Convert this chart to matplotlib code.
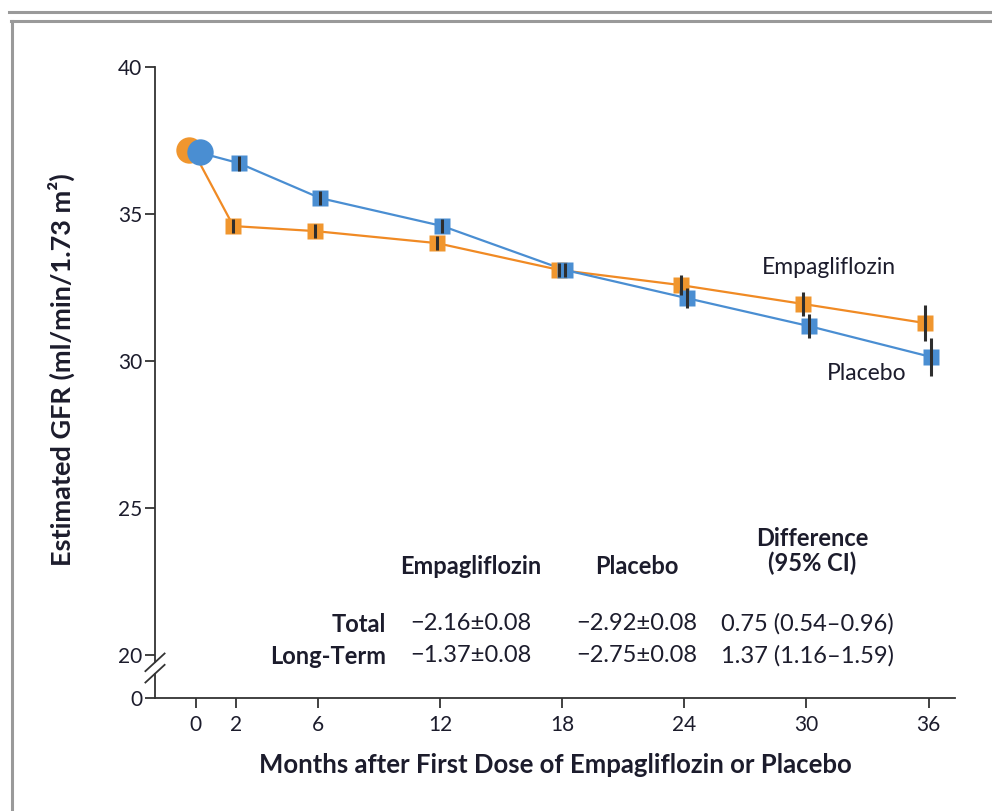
import matplotlib.pyplot as plt
import numpy as np
from matplotlib.lines import Line2D

# data
months = [0, 2, 6, 12, 18, 24, 30, 36]
empa_gfr = [37.18, 34.59, 34.42, 34.01, 33.10, 32.58, 31.94, 31.29]
empa_err = [0.0, 0.25, 0.25, 0.25, 0.25, 0.35, 0.42, 0.60]
placebo_gfr = [37.10, 36.73, 35.54, 34.59, 33.10, 32.14, 31.19, 30.14]
placebo_err = [0.0, 0.25, 0.25, 0.25, 0.25, 0.35, 0.42, 0.65]

x_ticks = [0, 2, 6, 12, 18, 24, 30, 36]
y_ticks = [0, 20, 25, 30, 35, 40]

table_cols = ["Empagliflozin", "Placebo"]
table_rows = ["Total", "Long-Term"]
empa_slope = ["\u22122.16\u00b10.08", "\u22121.37\u00b10.08"]
placebo_slope = ["\u22122.92\u00b10.08", "\u22122.75\u00b10.08"]
difference = ["0.75 (0.54\u20130.96)", "1.37 (1.16\u20131.59)"]

ORANGE = "#F0962E"
ORANGE_LINE = "#F08A24"
BLUE = "#4A8ED2"
TEXT = "#1c1c2c"
BAR = "#2e2e2e"

W, H = 992, 811
plt.rcParams["font.family"] = ["Lato", "DejaVu Sans"]


def px(x, y):
    """pixel position (from top-left) -> figure fraction"""
    return x / W, 1 - y / H


# broken y axis: 0..20 squeezed into a short stub
BREAK_LO = 18.54


def fwd(v):
    v = np.asarray(v, dtype=float)
    return np.where(v >= 20, v, BREAK_LO + v * (20 - BREAK_LO) / 20)


def inv(v):
    v = np.asarray(v, dtype=float)
    return np.where(v >= 20, v, (v - BREAK_LO) * 20 / (20 - BREAK_LO))


fig = plt.figure(figsize=(W / 100, H / 100), dpi=100)

# outer frame of the figure panel
frame = "#9a9a9a"
fig.add_artist(Line2D([9 / W, 1], [1 - 12 / H] * 2, color=frame, lw=2.2))
fig.add_artist(Line2D([11 / W, 1], [1 - 21 / H] * 2, color=frame, lw=2.2))
fig.add_artist(Line2D([12 / W] * 2, [0, 1 - 21 / H], color=frame, lw=2.2))

l, b = px(155, 698)
r, t = px(955, 67)
ax = fig.add_axes([l, b, r - l, t - b])
ax.set_yscale("function", functions=(fwd, inv))
ax.set_ylim(0, 40)
ax.set_xlim(-2.0, 37.3)

off_e = -0.15
off_p = 0.12
xe = np.array(months) + off_e
xp = np.array(months) + off_p

ax.plot(xe, empa_gfr, color=ORANGE_LINE, lw=1.6, zorder=2)
ax.plot(xp, placebo_gfr, color=BLUE, lw=1.6, zorder=2)
ax.plot(xe[1:], empa_gfr[1:], "s", color=ORANGE, ms=11.5, mec="none", zorder=3)
ax.plot(xp[1:], placebo_gfr[1:], "s", color=BLUE, ms=11.5, mec="none", zorder=4)
ax.errorbar(xe[1:], empa_gfr[1:], yerr=empa_err[1:], fmt="none", ecolor=BAR,
            elinewidth=2.2, capsize=0, zorder=5)
ax.errorbar(xp[1:], placebo_gfr[1:], yerr=placebo_err[1:], fmt="none", ecolor=BAR,
            elinewidth=2.2, capsize=0, zorder=5)
ax.plot(xe[0] - 0.2, empa_gfr[0], "o", color=ORANGE, ms=19, mec="none", zorder=3)
ax.plot(xp[0] + 0.1, placebo_gfr[0], "o", color=BLUE, ms=19, mec="none", zorder=4)

for s in ["top", "right"]:
    ax.spines[s].set_visible(False)
for s in ["left", "bottom"]:
    ax.spines[s].set_color("#333333")
    ax.spines[s].set_linewidth(1.3)

ax.set_xticks(x_ticks)
ax.set_yticks(y_ticks)
ax.set_yticklabels([str(v) for v in y_ticks])
ax.tick_params(axis="both", direction="out", length=7, width=1.3, color="#333333",
               labelsize=15, labelcolor=TEXT)
ax.tick_params(axis="x", pad=5)
ax.tick_params(axis="y", pad=2)

ax.set_xlabel("Months after First Dose of Empagliflozin or Placebo", fontsize=18.5,
              fontweight="bold", color=TEXT, labelpad=13)
ax.set_ylabel("Estimated GFR (ml/min/1.73 m\u00b2)", fontsize=19.5, fontweight="bold",
              color=TEXT)
ax.yaxis.set_label_coords(-0.1, 0.52)

# axis break marks
yb = 1 - (668 - 67) / (698 - 67)
for dy in (-0.009, 0.009):
    ax.plot([-0.012, 0.012], [yb + dy - 0.014, yb + dy + 0.014], transform=ax.transAxes,
            color="#333333", lw=1.3, clip_on=False, zorder=6)
ax.plot([0, 0], [yb - 0.004, yb + 0.004], transform=ax.transAxes, color="white",
        lw=3, clip_on=False, zorder=5)

# series labels
fig.text(*px(762, 268), "Empagliflozin", fontsize=16.5, color=TEXT, va="center")
fig.text(*px(827, 373), "Placebo", fontsize=16.5, color=TEXT, va="center")

# slope table
FS = 17
fig.text(*px(471, 567), table_cols[0], fontsize=FS, fontweight="bold", color=TEXT,
         ha="center", va="center")
fig.text(*px(637, 567), table_cols[1], fontsize=FS, fontweight="bold", color=TEXT,
         ha="center", va="center")
fig.text(*px(812, 551), "Difference\n(95% CI)", fontsize=FS, fontweight="bold",
         color=TEXT, ha="center", va="center", linespacing=1.1)
for i, yy in enumerate([624, 656]):
    fig.text(*px(386, yy), table_rows[i], fontsize=FS, fontweight="bold", color=TEXT,
             ha="right", va="center")
    fig.text(*px(410, yy), empa_slope[i], fontsize=FS, color=TEXT, va="center")
    fig.text(*px(576, yy), placebo_slope[i], fontsize=FS, color=TEXT, va="center")
    fig.text(*px(721, yy), difference[i], fontsize=FS, color=TEXT, va="center")

fig.savefig("out.png", dpi=100, facecolor="white")
